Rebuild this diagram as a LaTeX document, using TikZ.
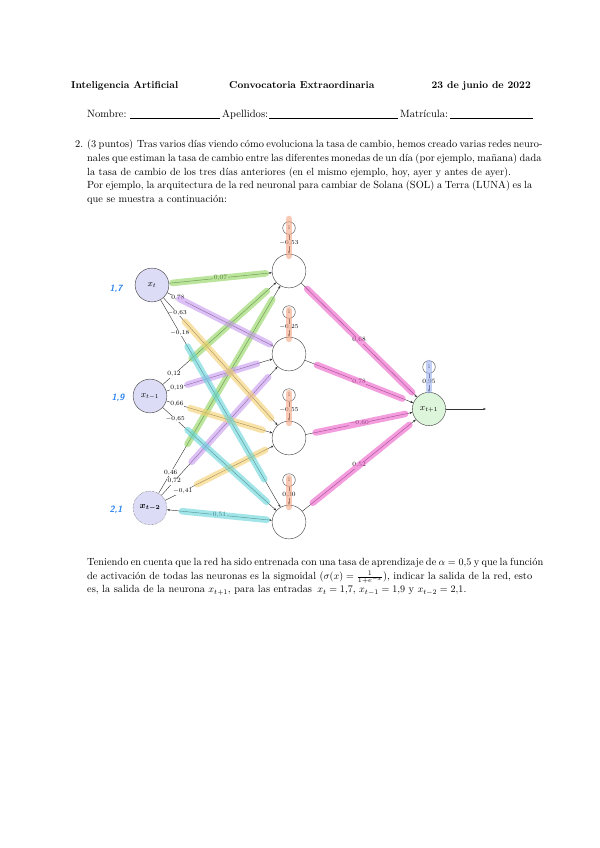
\documentclass[tikz,border=0pt]{standalone}
\usepackage{fontspec}
\usepackage{amsmath}
\usetikzlibrary{calc,arrows.meta}
\definecolor{inpfill}{HTML}{DCDCF7}
\definecolor{outfill}{HTML}{DDF5DA}
\definecolor{hlgreen}{HTML}{8ED35A}
\definecolor{hlpurple}{HTML}{C596F0}
\definecolor{hlyellow}{HTML}{F4CF6E}
\definecolor{hlcyan}{HTML}{63D4DA}
\definecolor{hlpink}{HTML}{EE5CC8}
\definecolor{hlorange}{HTML}{F4A886}
\definecolor{hlblue}{HTML}{9FB1F0}
\definecolor{handblue}{HTML}{2F86F0}
\newcommand{\jline}[1]{\makebox[441.5pt][s]{#1}}
\tikzset{
  inpnode/.style={circle,draw=black!75,fill=inpfill,minimum size=33.5pt,inner sep=0pt,font=\small},
  hidnode/.style={circle,draw=black!75,fill=white,minimum size=33.5pt,inner sep=0pt},
  outnode/.style={circle,draw=black!75,fill=outfill,minimum size=33pt,inner sep=0pt,font=\small},
  biasnode/.style={circle,draw=black!75,fill=white,minimum size=12.5pt,inner sep=0pt,font=\fontsize{5.5}{6}\selectfont},
  wedge/.style={draw=black!80,line width=0.4pt,-{Stealth[length=3pt,width=2.2pt]}},
  wlabel/.style={fill=white,inner sep=0.6pt,font=\fontsize{6.5}{7}\selectfont},
  hl/.style={line width=6.5pt,opacity=0.6,line cap=round},
  handnum/.style={text=handblue,font=\sffamily\bfseries\itshape\small},
  bodytext/.style={anchor=north west,inner sep=0pt,align=left,font=\fontsize{10.3}{13.6}\selectfont},
  hdr/.style={inner sep=0pt,font=\fontsize{10}{12}\selectfont\bfseries},
  formtext/.style={anchor=base west,inner sep=0pt,font=\fontsize{10.5}{12}\selectfont}
}
\begin{document}
\begin{tikzpicture}[x=0.99213pt,y=-0.99213pt]
\useasboundingbox (0,0) rectangle (600,848);
\fill[white] (0,0) rectangle (600,848);
% header
\node[hdr,anchor=base west] (h1t) at (71,88) {Inteligencia Artificial};
\node[hdr,anchor=base west] (h2t) at (229,88) {\addfontfeature{LetterSpace=10}Convocatoria Extraordinaria};
\node[hdr,anchor=base east] (h3t) at (531,88) {23 de junio de 2022};
% form line
\node[formtext] (f1) at (87,117) {Nombre:};
\node[formtext] (f2) at (222,117) {Apellidos:};
\node[formtext] (f3) at (400,117) {Matrícula:};
\draw[line width=0.4pt] (130,118) -- (220,118);
\draw[line width=0.4pt] (269,118) -- (398,118);
\draw[line width=0.4pt] (450,118) -- (533,118);
% problem text
\node[anchor=north west,inner sep=0pt,font=\fontsize{10.3}{13.6}\selectfont] (num) at (75,140) {2.};
\node[bodytext] (par1) at (87,140) {\jline{(3 puntos)\, Tras varios días viendo cómo evoluciona la tasa de cambio, hemos creado varias redes neuro-}\\
\jline{nales que estiman la tasa de cambio entre las diferentes monedas de un día (por ejemplo, mañana) dada}\\
la tasa de cambio de los tres días anteriores (en el mismo ejemplo, hoy, ayer y antes de ayer).};
\node[bodytext] (par2) at (87,180.5) {\jline{Por ejemplo, la arquitectura de la red neuronal para cambiar de Solana (SOL) a Terra (LUNA) es la}\\
que se muestra a continuación:};
\node[bodytext] (par3) at (87,558) {\jline{Teniendo en cuenta que la red ha sido entrenada con una tasa de aprendizaje de $\alpha=0{,}5$ y que la función}\\
\jline{de activación de todas las neuronas es la sigmoidal ($\sigma(x)=\frac{1}{1+e^{-x}}$), indicar la salida de la red, esto}\\
es, la salida de la neurona $x_{t+1}$, para las entradas\, $x_t=1{,}7$, $x_{t-1}=1{,}9$ y $x_{t-2}=2{,}1$.};
% nodes
\node[inpnode] (xt) at (152,285) {$x_t$};
\node[inpnode] (xt1) at (150,396) {$x_{t-1}$};
\node[inpnode,densely dotted] (xt2) at (150,508) {$\boldsymbol{x_{t-2}}$};
\node[hidnode] (n1) at (289,271) {};
\node[hidnode] (n2) at (289,354) {};
\node[hidnode] (n3) at (289,438) {};
\node[hidnode] (n4) at (289,522) {};
\node[biasnode] (b1) at (289,228) {1};
\node[biasnode] (b2) at (289,312) {1};
\node[biasnode] (b3) at (289,395) {1};
\node[biasnode] (b4) at (289,480) {1};
\node[outnode] (out) at (429,409) {$x_{t+1}$};
\node[biasnode] (bo) at (429,367) {1};
\coordinate (outend) at (486,409);
% hand-written values
\node[handnum] (v1) at (116,289) {1,7};
\node[handnum] (v2) at (118,398) {1,9};
\node[handnum] (v3) at (116,510) {2,1};
% input -> hidden edges
\draw[wedge] (xt) -- node[wlabel,pos=0.5] (l11) {0,07} (n1);
\draw[wedge] (xt) -- node[wlabel,pos=0.1] (l12) {0,78} (n2);
\draw[wedge] (xt) -- node[wlabel,pos=0.12] (l13) {$-0{,}63$} (n3);
\draw[wedge] (xt) -- node[wlabel,pos=0.16] (l14) {$-0{,}18$} (n4);
\draw[wedge] (xt1) -- node[wlabel,pos=0.1] (l21) {0,12} (n1);
\draw[wedge] (xt1) -- node[wlabel,pos=0.1] (l22) {0,19} (n2);
\draw[wedge] (xt1) -- node[wlabel,pos=0.1] (l23) {0,66} (n3);
\draw[wedge] (xt1) -- node[wlabel,pos=0.11] (l24) {$-0{,}65$} (n4);
\draw[wedge] (xt2) -- node[wlabel,pos=0.1] (l31) {0,46} (n1);
\draw[wedge] (xt2) -- node[wlabel,pos=0.11] (l32) {0,72} (n2);
\draw[wedge] (xt2) -- node[wlabel,pos=0.16] (l33) {$-0{,}41$} (n3);
\draw[wedge,{Stealth[length=3pt,width=2.2pt]}-{Stealth[length=3pt,width=2.2pt]}] (xt2) -- node[wlabel,pos=0.5] (l34) {0,51} (n4);
% bias -> hidden
\draw[wedge] (b1) -- node[wlabel,pos=0.45] (lb1) {$-0{,}53$} (n1);
\draw[wedge] (b2) -- node[wlabel,pos=0.45] (lb2) {$-0{,}25$} (n2);
\draw[wedge] (b3) -- node[wlabel,pos=0.45] (lb3) {$-0{,}55$} (n3);
\draw[wedge] (b4) -- node[wlabel,pos=0.45] (lb4) {0,30} (n4);
% hidden -> output
\draw[wedge] (n1) -- node[wlabel] (lo1) {0,68} (out);
\draw[wedge] (n2) -- node[wlabel] (lo2) {0,78} (out);
\draw[wedge] (n3) -- node[wlabel] (lo3) {$-0{,}60$} (out);
\draw[wedge] (n4) -- node[wlabel] (lo4) {0,52} (out);
\draw[wedge] (bo) -- node[wlabel,pos=0.45] (lbo) {0,95} (out);
\draw[wedge] (out) -- (outend);
% highlighter strokes
\draw[hl,hlgreen] ($(xt)!0.15!(n1)$) -- ($(xt)!0.83!(n1)$);
\draw[hl,hlgreen] ($(xt1)!0.3!(n1)$) -- ($(xt1)!0.84!(n1)$);
\draw[hl,hlgreen] ($(xt2)!0.27!(n1)$) -- ($(xt2)!0.88!(n1)$);
\draw[hl,hlpurple] ($(xt)!0.2!(n2)$) -- ($(xt)!0.86!(n2)$);
\draw[hl,hlpurple] ($(xt1)!0.27!(n2)$) -- ($(xt1)!0.77!(n2)$);
\draw[hl,hlpurple] ($(xt2)!0.3!(n2)$) -- ($(xt2)!0.85!(n2)$);
\draw[hl,hlyellow] ($(xt)!0.24!(n3)$) -- ($(xt)!0.87!(n3)$);
\draw[hl,hlyellow] ($(xt1)!0.29!(n3)$) -- ($(xt1)!0.81!(n3)$);
\draw[hl,hlyellow] ($(xt2)!0.34!(n3)$) -- ($(xt2)!0.83!(n3)$);
\draw[hl,hlcyan] ($(xt)!0.26!(n4)$) -- ($(xt)!0.82!(n4)$);
\draw[hl,hlcyan] ($(xt1)!0.27!(n4)$) -- ($(xt1)!0.84!(n4)$);
\draw[hl,hlcyan] ($(xt2)!0.23!(n4)$) -- ($(xt2)!0.84!(n4)$);
\draw[hl,hlpink] ($(n1)!0.13!(out)$) -- ($(n1)!0.88!(out)$);
\draw[hl,hlpink] ($(n2)!0.2!(out)$) -- ($(n2)!0.81!(out)$);
\draw[hl,hlpink] ($(n3)!0.19!(out)$) -- ($(n3)!0.83!(out)$);
\draw[hl,hlpink] ($(n4)!0.17!(out)$) -- ($(n4)!0.86!(out)$);
\draw[hl,hlorange] ($(b1)+(0,-9)$) -- ($(n1.north)+(0,2)$);
\draw[hl,hlorange] ($(b2)+(0,-2)$) -- ($(n2.north)+(0,2)$);
\draw[hl,hlorange] ($(b3)+(0,-2)$) -- ($(n3.north)+(0,2)$);
\draw[hl,hlorange] ($(b4)+(0,-2)$) -- ($(n4.north)+(0,2)$);
\draw[hl,hlblue] ($(bo)+(0,-4)$) -- ($(out.north)+(0,-2)$);
\end{tikzpicture}
\end{document}
